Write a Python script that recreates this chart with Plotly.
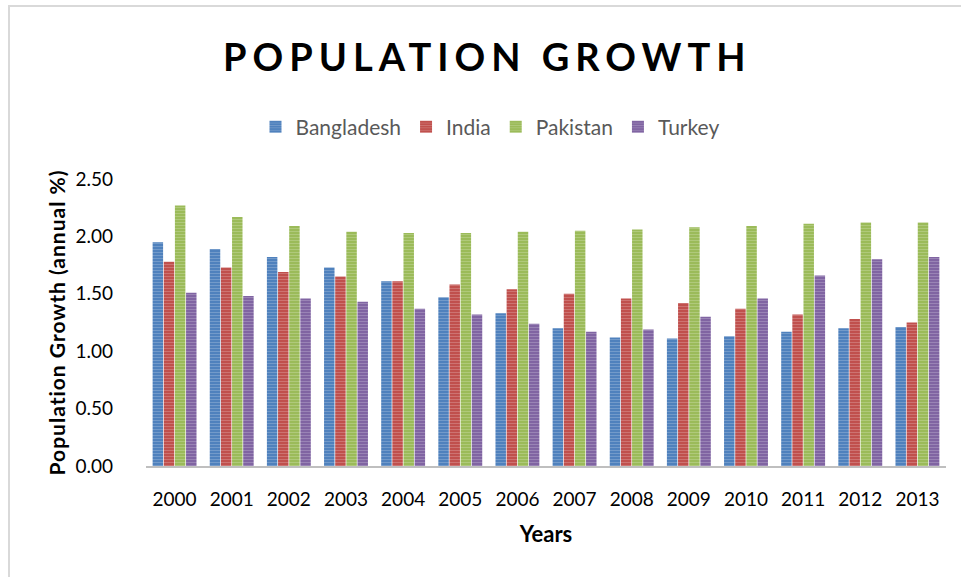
import plotly.graph_objects as go

# Annual population growth (%) by country, 2000-2013
years = ["2000", "2001", "2002", "2003", "2004", "2005", "2006",
         "2007", "2008", "2009", "2010", "2011", "2012", "2013"]
bangladesh = [1.95, 1.89, 1.82, 1.73, 1.61, 1.47, 1.33, 1.20, 1.12, 1.11, 1.13, 1.17, 1.20, 1.21]
india = [1.78, 1.73, 1.69, 1.65, 1.61, 1.58, 1.54, 1.50, 1.46, 1.42, 1.37, 1.32, 1.28, 1.25]
pakistan = [2.27, 2.17, 2.09, 2.04, 2.03, 2.03, 2.04, 2.05, 2.06, 2.08, 2.09, 2.11, 2.12, 2.12]
turkey = [1.51, 1.48, 1.46, 1.43, 1.37, 1.32, 1.24, 1.17, 1.19, 1.30, 1.46, 1.66, 1.80, 1.82]
y_ticks = [0.0, 0.5, 1.0, 1.5, 2.0, 2.5]

series = [
    ("Bangladesh", bangladesh, "#4F81BD"),
    ("India", india, "#C0504D"),
    ("Pakistan", pakistan, "#9BBB59"),
    ("Turkey", turkey, "#8064A2"),
]

FONT = "Lato, 'Open Sans', sans-serif"

fig = go.Figure()
for name, vals, color in series:
    fig.add_trace(go.Bar(
        name=name, x=years, y=vals,
        marker=dict(
            color=color,
            line=dict(width=0),
            pattern=dict(shape="-", fillmode="overlay", size=3, solidity=0.3,
                         fgcolor="rgba(255,255,255,0.45)"),
        ),
    ))

W, H = 961, 577
L, R, T, B = 146, 15, 179, 111
pw, ph = W - L - R, H - T - B


def px_to_paper_x(px):
    return (px - L) / pw


def px_to_paper_y(py):
    return (H - B - py) / ph


fig.update_layout(
    width=W, height=H,
    margin=dict(l=L, r=R, t=T, b=B, pad=0),
    paper_bgcolor="white", plot_bgcolor="white",
    barmode="group", bargap=0.22, bargroupgap=0.06,
    font=dict(family=FONT, color="#000000"),
    title=dict(
        text='<b><span style="letter-spacing:6px">POPULATION GROWTH</span></b>',
        font=dict(family=FONT, size=38, color="#000000", weight=900),
        x=0.507, xanchor="center", xref="container",
        y=1 - 58 / H, yanchor="middle", yref="container",
    ),
    legend=dict(
        orientation="h",
        x=px_to_paper_x(490), xanchor="center",
        y=px_to_paper_y(127), yanchor="middle",
        font=dict(family=FONT, size=21, color="#595959"),
        bgcolor="rgba(0,0,0,0)",
        traceorder="normal",
    ),
    xaxis=dict(
        type="category",
        showgrid=False, zeroline=False,
        showline=True, linecolor="#BFBFBF", linewidth=2,
        ticks="", ticklabelstandoff=15,
        tickfont=dict(family=FONT, size=19, color="#000000"),
        title=dict(text="<b>Years</b>", font=dict(family=FONT, size=22, color="#000000"),
                   standoff=18),
    ),
    yaxis=dict(
        range=[0, 2.5],
        tickvals=y_ticks, tickformat=".2f",
        showgrid=False, zeroline=False, showline=False,
        ticks="", ticklabelstandoff=32,
        tickfont=dict(family=FONT, size=19, color="#000000"),
        title=dict(text='<b><span style="letter-spacing:1px">Population Growth (annual %)</span></b>',
                   font=dict(family=FONT, size=21, color="#000000"),
                   standoff=4),
    ),
    shapes=[dict(
        type="rect", xref="paper", yref="paper",
        x0=px_to_paper_x(9), x1=px_to_paper_x(975),
        y0=px_to_paper_y(590), y1=px_to_paper_y(6),
        line=dict(color="#D9D9D9", width=2), fillcolor="rgba(0,0,0,0)",
        layer="below",
    )],
)

fig.write_html("out.html")
